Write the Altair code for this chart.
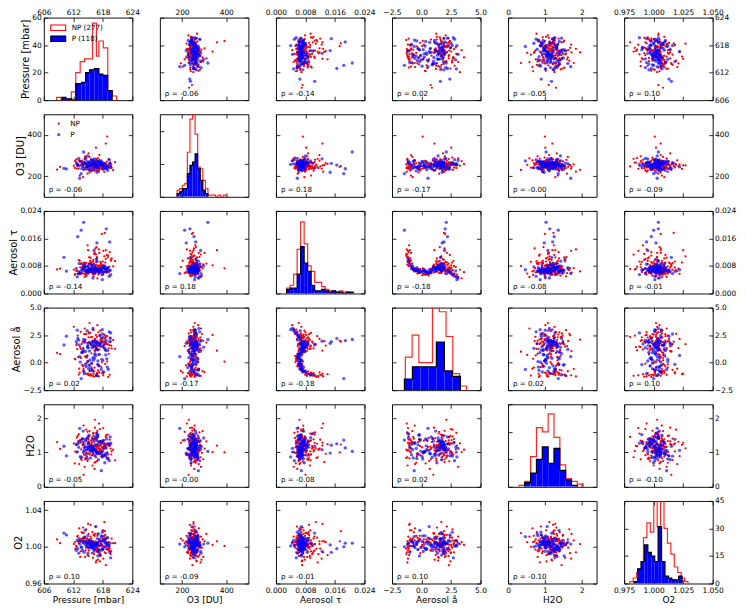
import altair as alt
import pandas as pd

FONT = "DejaVu Sans"
W, H = 89, 83

VARS = ["pressure", "o3", "tau", "ang", "h2o", "o2"]
TITLES = ["Pressure [mbar]", "O3 [DU]", "Aerosol τ", "Aerosol å", "H2O", "O2"]

X_DOMAINS = [[606, 624], [100, 500], [0.0, 0.024], [-2.5, 5.0], [0.0, 2.4], [0.975, 1.05]]
Y_DOMAINS = [[606, 624], [100, 500], [0.0, 0.024], [-2.5, 5.0], [0.0, 2.4], [0.96, 1.05]]
X_TICKS = [[606, 612, 618, 624], [200, 400], [0.0, 0.008, 0.016, 0.024],
           [-2.5, 0.0, 2.5, 5.0], [0, 1, 2], [0.975, 1.0, 1.025, 1.05]]
Y_TICKS = [[606, 612, 618, 624], [200, 400], [0.0, 0.008, 0.016, 0.024],
           [-2.5, 0.0, 2.5, 5.0], [0, 1, 2], [0.96, 1.0, 1.04]]
X_FMT = ["d", "d", ".3f", ".1f", "d", ".3f"]
Y_FMT = ["d", "d", ".3f", ".1f", "d", ".2f"]

HIST_YMAX = [60, 50, 60, 60, 60, 45]
HIST_TICKS = [[0, 20, 40, 60], [0, 20, 40], [0, 20, 40, 60], [0, 20, 40, 60],
              [0, 20, 40, 60], [0, 15, 30, 45]]

RHO = [
    ["", "-0.06", "-0.14", "0.02", "-0.05", "0.10"],
    ["-0.06", "", "0.18", "-0.17", "-0.00", "-0.09"],
    ["-0.14", "0.18", "", "-0.18", "-0.08", "-0.01"],
    ["0.02", "-0.17", "-0.18", "", "0.02", "0.10"],
    ["-0.05", "-0.00", "-0.08", "0.02", "", "-0.10"],
    ["0.10", "-0.09", "-0.01", "0.10", "-0.10", ""],
]

LEGEND_HIST = ["NP (277)", "P (118)"]
LEGEND_PTS = ["NP", "P"]

# ---------------- NP sample (red) ----------------
NP_PRESSURE = [
    616.2, 614.5, 618.1, 617.4, 612.9, 615.8, 619.2, 616.9, 613.7, 617.8,
    615.1, 618.6, 614.0, 616.5, 620.1, 613.2, 617.1, 615.6, 618.9, 616.0,
    614.8, 617.6, 612.4, 616.4, 618.3, 615.3, 619.6, 614.3, 617.0, 616.7,
    608.7, 615.9, 618.0, 613.5, 616.3, 617.9, 614.6, 619.0, 615.5, 616.8,
    613.0, 617.3, 616.1, 618.5, 614.9, 615.2, 617.5, 612.7, 616.6, 618.8,
    615.7, 614.1, 619.4, 616.9, 613.9, 617.2, 615.4, 618.2, 616.2, 614.4,
    617.7, 609.3, 615.0, 618.4, 616.0, 613.3, 617.4, 619.8, 615.8, 616.5,
    614.7, 618.0, 616.3, 612.1, 617.0, 615.6, 618.7, 614.2, 616.8, 617.6,
    613.6, 616.1, 619.1, 615.1, 617.8, 614.9, 616.4, 618.3, 615.9, 613.8,
    617.2, 616.7, 614.0, 618.6, 615.3, 616.9, 620.5, 615.7, 617.3, 614.6]
NP_O3 = [
    248, 263, 239, 271, 255, 228, 282, 246, 259, 236,
    267, 358, 244, 252, 229, 276, 241, 260, 392, 250,
    233, 257, 274, 245, 262, 218, 249, 286, 238, 265,
    232, 254, 243, 270, 226, 258, 290, 247, 235, 261,
    253, 279, 240, 256, 212, 268, 251, 237, 284, 244,
    259, 230, 247, 273, 255, 222, 264, 242, 250, 296,
    236, 245, 258, 249, 269, 203, 253, 240, 278, 257,
    246, 234, 262, 251, 288, 243, 254, 266, 227, 248,
    272, 239, 256, 310, 245, 260, 231, 252, 241, 275,
    250, 263, 195, 247, 258, 236, 268, 244, 302, 255]
NP_TAU = [
    0.0072, 0.0065, 0.0055, 0.0081, 0.0058, 0.0060, 0.0076, 0.0069, 0.0088, 0.0053,
    0.0062, 0.0126, 0.0058, 0.0074, 0.0079, 0.0064, 0.0055, 0.0070, 0.0073, 0.0093,
    0.0067, 0.0083, 0.0057, 0.0061, 0.0075, 0.0062, 0.0098, 0.0048, 0.0068, 0.0071,
    0.0070, 0.0064, 0.0075, 0.0086, 0.0078, 0.0082, 0.0052, 0.0105, 0.0090, 0.0073,
    0.0056, 0.0068, 0.0098, 0.0090, 0.0059, 0.0105, 0.0077, 0.0066, 0.0113, 0.0112,
    0.0065, 0.0080, 0.0120, 0.0044, 0.0073, 0.0128, 0.0095, 0.0063, 0.0087, 0.0085,
    0.0070, 0.0072, 0.0079, 0.0176, 0.0060, 0.0095, 0.0074, 0.0102, 0.0071, 0.0057,
    0.0052, 0.0082, 0.0066, 0.0069, 0.0078, 0.0084, 0.0066, 0.0090, 0.0102, 0.0072,
    0.0058, 0.0050, 0.0110, 0.0087, 0.0173, 0.0140, 0.0064, 0.0108, 0.0092, 0.0076,
    0.0060, 0.0135, 0.0077, 0.0071, 0.0062, 0.0061, 0.0094, 0.0079, 0.0118, 0.0068]
NP_ANG = [
    1.85, 2.10, 0.20, 1.55, 2.45, -0.10, 1.30, 1.95, 1.70, 0.05,
    2.30, 1.09, -0.35, 1.15, 2.05, -0.55, 2.75, 1.60, 0.10, 1.45,
    1.80, 2.20, 0.30, 1.05, 2.55, -0.25, 1.90, 3.10, -0.70, 1.40,
    0.88, 2.00, -0.85, 1.25, 1.75, -0.95, 2.60, 1.65, -1.05, 2.35,
    0.50, 1.20, -1.00, 2.15, 1.50, -1.15, 2.90, 1.70, -1.20, 2.40,
    0.85, 1.00, -1.10, 3.40, 1.88, -1.25, 2.70, 1.35, -0.80, 1.98,
    2.25, 0.78, -1.10, 1.90, 1.62, -0.90, 2.48, 1.30, -0.60, 2.15,
    0.60, 1.52, -0.45, 3.25, 1.12, -1.20, 1.78, 2.58, -0.95, 1.45,
    0.42, 2.95, -1.30, 1.82, 2.00, -1.05, 2.10, 1.68, -1.18, 0.95,
    0.75, 1.55, -0.75, 2.32, 3.60, -0.15, 1.25, 1.72, -0.88, 2.62]
NP_H2O = [
    1.12, 0.85, 1.34, 1.05, 1.48, 0.92, 1.21, 1.63, 0.78, 1.15,
    1.27, 1.20, 0.98, 1.41, 1.08, 0.66, 1.30, 1.17, 1.00, 1.55,
    0.88, 1.24, 1.02, 1.72, 1.36, 0.95, 1.11, 0.58, 1.45, 1.19,
    1.30, 1.07, 1.26, 0.82, 1.39, 1.14, 0.99, 1.52, 1.22, 0.74,
    1.33, 1.04, 1.18, 0.90, 1.60, 1.28, 1.09, 1.43, 0.86, 1.25,
    1.13, 0.35, 1.37, 1.01, 1.21, 1.84, 0.94, 1.16, 1.31, 0.80,
    1.06, 1.10, 1.47, 1.23, 0.97, 1.35, 1.68, 1.03, 1.29, 0.89,
    1.42, 1.14, 0.70, 1.26, 1.18, 1.05, 1.50, 0.93, 1.38, 1.20,
    1.09, 1.57, 0.84, 1.32, 1.00, 1.24, 1.95, 1.12, 0.62, 1.40,
    1.17, 0.96, 1.28, 1.45, 1.08, 1.33, 0.77, 1.22, 1.11, 1.66]
NP_O2 = [
    1.003, 0.996, 1.008, 1.001, 1.012, 0.993, 1.005, 0.999, 1.016, 1.002,
    0.990, 1.006, 1.010, 0.997, 1.004, 1.020, 0.994, 1.007, 1.001, 0.988,
    1.009, 1.003, 0.998, 1.014, 1.000, 1.006, 0.992, 1.011, 1.004, 0.985,
    1.008, 1.002, 1.018, 0.995, 1.005, 1.009, 0.999, 1.003, 1.024, 0.997,
    1.006, 0.991, 1.001, 1.013, 1.004, 0.996, 1.007, 1.000, 0.983, 1.010,
    1.002, 1.015, 0.998, 1.005, 1.008, 0.994, 1.003, 1.011, 1.001, 0.989,
    1.006, 1.004, 0.999, 1.017, 1.002, 1.007, 0.993, 1.009, 1.000, 1.022,
    1.005, 0.997, 1.012, 1.003, 0.986, 1.006, 1.001, 1.010, 0.995, 1.004,
    1.008, 1.002, 0.998, 1.014, 1.006, 0.991, 1.003, 1.027, 1.000, 1.007,
    0.996, 1.005, 1.009, 0.980, 1.002, 1.012, 1.004, 0.999, 1.006, 1.019]

NP_PRESSURE_B = [
    615.4, 617.9, 613.8, 616.6, 618.4, 614.6, 616.1, 619.3, 615.0, 617.5,
    612.8, 616.8, 618.9, 614.9, 617.2, 615.9, 619.7, 613.5, 616.3, 618.1,
    614.3, 617.7, 615.6, 616.9, 612.3, 618.6, 615.2, 617.0, 614.0, 616.4,
    619.2, 615.7, 613.1, 617.4, 616.0, 618.3, 614.7, 616.7, 615.3, 617.8,
    613.9, 616.2, 618.8, 615.8, 614.4, 617.3, 616.5, 612.6, 618.0, 615.1,
    616.9, 614.1, 617.6, 619.5, 615.5, 616.3, 613.4, 618.5, 616.6, 615.0]
NP_O3_B = [
    254, 241, 266, 249, 258, 233, 272, 245, 261, 238,
    250, 279, 243, 256, 227, 264, 247, 253, 269, 236,
    258, 244, 283, 251, 240, 262, 230, 255, 248, 275,
    242, 259, 237, 266, 252, 221, 261, 246, 293, 250,
    257, 239, 270, 248, 263, 235, 254, 281, 243, 260,
    231, 257, 249, 267, 240, 255, 273, 246, 338, 252]
NP_TAU_B = [
    0.0068, 0.0074, 0.0059, 0.0083, 0.0063, 0.0089, 0.0070, 0.0078, 0.0057, 0.0092,
    0.0066, 0.0106, 0.0073, 0.0061, 0.0081, 0.0069, 0.0095, 0.0058, 0.0076, 0.0124,
    0.0071, 0.0064, 0.0087, 0.0075, 0.0054, 0.0100, 0.0067, 0.0080, 0.0072, 0.0118,
    0.0062, 0.0085, 0.0097, 0.0070, 0.0055, 0.0079, 0.0065, 0.0091, 0.0073, 0.0068,
    0.0084, 0.0115, 0.0060, 0.0077, 0.0056, 0.0072, 0.0131, 0.0066, 0.0093, 0.0080,
    0.0063, 0.0074, 0.0088, 0.0069, 0.0104, 0.0058, 0.0076, 0.0071, 0.0082, 0.0126]
NP_ANG_B = [
    1.75, 2.20, -0.20, 1.40, 2.50, -1.02, 1.95, 1.60, 0.15, 2.05,
    1.22, -1.22, 2.40, 0.65, 1.85, -0.65, 1.55, 2.80, 1.10, -1.15,
    2.00, -0.40, 2.30, 1.48, 0.35, 1.80, 2.65, -0.90, 1.32, 2.15,
    0.80, 1.65, -1.08, 2.45, 3.00, 1.92, -0.05, 1.28, -0.78, 2.12,
    1.05, -1.28, 1.70, 2.35, 0.55, -0.30, 1.95, 1.58, -0.98, 2.75,
    1.18, -0.58, 1.90, 2.28, -1.12, 0.70, 1.42, -0.12, 2.52, -1.00]
NP_H2O_B = [
    1.15, 0.91, 1.38, 1.07, 1.26, 0.83, 1.49, 1.19, 0.97, 1.33,
    1.02, 1.58, 1.22, 0.75, 1.11, 1.40, 0.94, 1.29, 1.06, 1.71,
    1.17, 0.88, 1.35, 1.24, 0.68, 1.13, 1.46, 1.00, 1.31, 1.09,
    0.80, 1.27, 1.53, 1.04, 1.20, 0.92, 1.36, 1.14, 1.62, 0.99,
    1.23, 1.08, 0.86, 1.44, 1.16, 1.30, 0.72, 1.21, 1.03, 1.39,
    1.12, 1.78, 0.95, 1.25, 1.07, 0.52, 1.34, 1.18, 1.01, 1.28]
NP_O2_B = [
    1.004, 0.998, 1.009, 1.002, 0.994, 1.007, 1.013, 1.000, 1.005, 0.990,
    1.011, 1.003, 0.997, 1.008, 1.001, 1.016, 0.995, 1.006, 1.004, 0.987,
    1.010, 1.002, 0.999, 1.014, 1.005, 0.993, 1.007, 1.001, 1.021, 1.003,
    0.996, 1.009, 1.004, 0.984, 1.006, 1.012, 1.000, 0.998, 1.008, 1.003,
    1.015, 0.992, 1.005, 1.002, 1.010, 0.997, 1.006, 1.001, 1.018, 1.004,
    0.999, 1.007, 1.003, 0.995, 1.011, 1.005, 0.989, 1.008, 1.002, 1.025]

# ---------------- P sample (blue) ----------------
P_PRESSURE = [
    615.8, 617.2, 613.4, 616.5, 618.6, 614.2, 616.9, 619.3, 615.1, 617.8,
    610.1, 616.2, 613.9, 618.1, 615.5, 617.5, 614.7, 616.7, 619.0, 612.9,
    616.0, 618.4, 614.4, 617.0, 615.3, 610.6, 616.4, 613.1, 618.9, 617.3,
    615.7, 614.0, 616.8, 619.6, 615.0, 617.7, 613.6, 616.3, 618.2, 614.9,
    616.6, 612.6, 617.9, 615.2, 618.7, 616.1, 614.5, 617.1, 619.4, 615.9,
    613.3, 616.9, 618.0, 614.8, 614.1]
P_O3 = [
    262, 248, 271, 255, 239, 266, 252, 280, 244, 259,
    238, 268, 250, 234, 273, 257, 246, 263, 228, 254,
    276, 241, 260, 249, 265, 235, 256, 286, 243, 270,
    251, 261, 219, 258, 247, 274, 212, 267, 253, 298,
    245, 264, 257, 232, 236, 250, 282, 240, 262, 255,
    190, 272, 248, 259, 317]
P_TAU = [
    0.0071, 0.0066, 0.0063, 0.0074, 0.0064, 0.0085, 0.0068, 0.0050, 0.0068, 0.0066,
    0.0105, 0.0083, 0.0067, 0.0062, 0.0071, 0.0070, 0.0060, 0.0100, 0.0072, 0.0165,
    0.0045, 0.0077, 0.0064, 0.0068, 0.0086, 0.0065, 0.0060, 0.0058, 0.0075, 0.0072,
    0.0065, 0.0075, 0.0147, 0.0055, 0.0069, 0.0069, 0.0184, 0.0061, 0.0072, 0.0080,
    0.0069, 0.0073, 0.0040, 0.0062, 0.0188, 0.0070, 0.0078, 0.0065, 0.0150, 0.0080,
    0.0058, 0.0066, 0.0076, 0.0066, 0.0207]
P_ANG = [
    1.35, -0.30, 0.05, 1.60, 0.70, -1.00, 1.80, 2.80, -0.55, 0.30,
    1.60, 1.45, 0.95, 2.30, -0.70, 1.70, 0.50, -1.15, 1.10, 2.20,
    3.10, 1.30, -0.15, 0.15, 1.85, 2.40, 0.82, 2.05, -0.40, 1.55,
    -0.05, 1.20, 1.75, 2.70, 1.62, -0.62, -1.45, 0.40, -0.85, 1.40,
    0.65, 1.90, 3.00, -0.22, 2.00, 0.22, 1.02, 1.72, 1.90, -0.75,
    0.55, 1.18, 1.88, 2.90, 2.10]
P_H2O = [
    1.05, 1.22, 0.88, 1.35, 0.97, 1.14, 1.48, 0.76, 1.28, 1.02,
    1.18, 0.92, 1.40, 1.10, 0.84, 1.30, 1.07, 1.55, 0.95, 1.25,
    1.12, 0.70, 1.38, 1.00, 1.20, 0.90, 1.45, 1.15, 0.82, 1.32,
    1.04, 1.62, 0.98, 1.27, 1.09, 0.47, 1.36, 1.19, 0.93, 1.42,
    1.06, 1.24, 0.87, 1.50, 1.13, 1.01, 1.33, 0.79, 1.21, 1.08,
    1.70, 0.96, 1.29, 1.16, 1.03]
P_O2 = [
    1.002, 0.997, 1.006, 1.000, 1.009, 0.994, 1.004, 1.001, 0.999, 1.012,
    1.015, 1.003, 0.996, 1.007, 1.001, 0.991, 1.005, 1.002, 1.010, 0.998,
    1.004, 1.000, 1.018, 0.995, 1.006, 1.013, 1.001, 0.993, 1.003, 1.008,
    0.999, 1.005, 1.002, 0.988, 1.004, 1.011, 1.000, 0.997, 1.006, 1.003,
    1.022, 0.996, 1.001, 1.007, 1.004, 0.999, 1.002, 1.014, 0.994, 1.005,
    1.003, 1.009, 0.998, 1.001, 1.004]

P_PRESSURE_B = [
    616.3, 614.6, 617.6, 615.4, 618.3, 613.7, 616.8, 615.0, 617.4, 619.1,
    614.3, 616.0, 618.5, 615.7, 617.0, 612.8, 616.5, 614.9, 618.0, 615.6,
    617.3, 613.2, 616.2, 619.5, 615.3, 617.9, 614.2, 616.7, 618.8, 615.9]
P_O3_B = [
    256, 243, 268, 251, 262, 237, 274, 249, 259, 245,
    265, 231, 253, 278, 247, 260, 240, 270, 255, 226,
    263, 250, 284, 242, 258, 266, 236, 252, 244, 261]
P_TAU_B = [
    0.0070, 0.0067, 0.0073, 0.0064, 0.0081, 0.0069, 0.0094, 0.0072, 0.0060, 0.0066,
    0.0076, 0.0063, 0.0071, 0.0084, 0.0068, 0.0048, 0.0075, 0.0065, 0.0079, 0.0070,
    0.0062, 0.0087, 0.0125, 0.0067, 0.0074, 0.0058, 0.0078, 0.0069, 0.0064, 0.0072]
P_ANG_B = [
    1.50, -0.35, 1.78, 0.25, 1.62, 0.90, -1.10, 1.35, 2.45, -0.60,
    1.85, 0.45, 1.15, 1.70, -0.18, 2.95, 1.92, 0.10, 1.45, -0.45,
    0.75, 1.60, 1.95, 2.20, 1.05, 2.60, -0.82, 1.28, 0.35, 1.88]
P_H2O_B = [
    1.10, 0.94, 1.31, 1.03, 1.21, 0.86, 1.43, 1.15, 0.99, 1.26,
    1.07, 1.37, 0.90, 1.18, 1.52, 1.01, 1.23, 0.81, 1.34, 1.12,
    0.96, 1.29, 1.08, 1.45, 1.16, 0.89, 1.24, 1.05, 1.39, 1.13]
P_O2_B = [
    1.001, 1.005, 0.996, 1.003, 1.008, 0.999, 1.004, 0.993, 1.006, 1.002,
    1.010, 0.998, 1.004, 1.001, 0.990, 1.007, 1.003, 1.012, 0.997, 1.005,
    1.002, 1.009, 0.995, 1.004, 1.000, 1.016, 1.006, 1.003, 0.998, 1.005]

# ---------------- histogram bins read from the diagonal ----------------
NP_HIST_EDGES = [
    [608.6, 609.5, 611.6, 612.5, 613.4, 614.3, 615.2, 615.9, 616.7, 617.2, 618.1, 619.0, 619.9, 620.8],
    [178.0, 189.6, 201.2, 212.8, 224.4, 236.0, 247.6, 259.2, 270.8, 282.4, 294.0, 305.6, 317.2,
     328.8, 340.4, 352.0, 363.6, 375.2, 386.8, 398.4],
    [0.0029, 0.00385, 0.0048, 0.00575, 0.0067, 0.00765, 0.0086, 0.00955, 0.0105, 0.01145, 0.0124,
     0.01335, 0.0143, 0.01525, 0.0162, 0.01715, 0.0181, 0.01905, 0.0200, 0.02095],
    [-1.37, -0.795, -0.22, 0.355, 0.93, 1.505, 2.08, 2.655, 3.23, 3.805],
    [0.294, 0.453, 0.611, 0.770, 0.928, 1.087, 1.245, 1.404, 1.562, 1.720, 1.879, 2.037],
    [0.9798, 0.9827, 0.9856, 0.9885, 0.9914, 0.9943, 0.9972, 1.0001, 1.0030, 1.0059, 1.0088,
     1.0117, 1.0146, 1.0175, 1.0204, 1.0233, 1.0262, 1.0291],
]
NP_HIST_COUNTS = [
    [2, 0, 6, 20, 28, 30, 30, 56, 32, 43, 38, 7, 3],
    [4, 5, 7, 8, 27, 47, 62, 38, 18, 17, 10, 5, 1, 1, 1, 0, 1, 0, 1],
    [4, 6, 14, 32, 52, 36, 20, 16, 8, 8, 5, 3, 2, 1, 1, 2, 1, 1, 0],
    [24, 40, 20, 20, 65, 57, 39, 12, 3],
    [1, 4, 22, 43, 40, 53, 36, 16, 6, 4, 2],
    [1, 3, 6, 8, 25, 33, 28, 50, 31, 50, 30, 22, 16, 9, 6, 3, 1],
]
P_HIST_EDGES = [
    [609.7, 610.5, 611.7, 612.5, 613.7, 614.5, 615.3, 616.3, 617.2, 618.0, 619.0, 619.9],
    [178.0, 189.6, 201.2, 212.8, 224.4, 236.0, 247.6, 259.2, 270.8, 282.4, 294.0, 305.6, 317.2],
    [0.0029, 0.00385, 0.0048, 0.00575, 0.0067, 0.00765, 0.0086, 0.00955, 0.0105, 0.01145, 0.0124,
     0.01335, 0.0143, 0.01525, 0.0162, 0.01715, 0.0181, 0.01905, 0.0200, 0.02095],
    [-1.45, -0.77, -0.09, 0.58, 1.26, 1.94, 2.62, 3.30],
    [0.453, 0.611, 0.770, 0.928, 1.087, 1.245, 1.404, 1.562, 1.720, 1.879],
    [0.9835, 0.9864, 0.9893, 0.9922, 0.9951, 0.9980, 1.0009, 1.0038, 1.0067, 1.0096, 1.0125,
     1.0154, 1.0183, 1.0212, 1.0241],
]
P_HIST_COUNTS = [
    [2, 1, 0, 12, 13, 20, 22, 23, 19, 18, 7],
    [2, 3, 5, 5, 14, 19, 21, 26, 17, 10, 4, 2],
    [3, 4, 4, 14, 34, 22, 16, 6, 2, 2, 3, 2, 1, 2, 1, 1, 0, 1, 1],
    [8, 17, 17, 17, 35, 14, 10],
    [3, 10, 20, 29, 17, 28, 12, 5, 1],
    [1, 8, 12, 21, 17, 15, 12, 31, 12, 4, 3, 2, 2, 4],
]

np_df = pd.DataFrame({"pressure": NP_PRESSURE + NP_PRESSURE_B, "o3": NP_O3 + NP_O3_B,
                      "tau": NP_TAU + NP_TAU_B, "ang": NP_ANG + NP_ANG_B,
                      "h2o": NP_H2O + NP_H2O_B, "o2": NP_O2 + NP_O2_B})
p_df = pd.DataFrame({"pressure": P_PRESSURE + P_PRESSURE_B, "o3": P_O3 + P_O3_B,
                     "tau": P_TAU + P_TAU_B, "ang": P_ANG + P_ANG_B,
                     "h2o": P_H2O + P_H2O_B, "o2": P_O2 + P_O2_B})

TICK_FS = 7.5
XTITLE_FS = 9
YTITLE_FS = 10
TEXT_FS = 7.2


def step_df(edges, counts):
    xs = [edges[0]] + list(edges[:-1]) + [edges[-1]]
    ys = [0] + list(counts) + [0]
    return pd.DataFrame({"x": xs, "y": ys, "i": list(range(len(xs)))})


def bar_df(edges, counts):
    return pd.DataFrame({"x": list(edges[:-1]), "x2": list(edges[1:]),
                         "y": list(counts), "y0": [0] * len(counts)})


def make_axis(orient, values, fmt, show_labels, title, label_pad, title_pad=2, title_fs=9):
    kw = dict(orient=orient, values=values, format=fmt, labels=show_labels,
              offset=-4, labelPadding=label_pad)
    if title is not None:
        kw["title"] = title
        kw["titlePadding"] = title_pad
        kw["titleFontSize"] = title_fs
    else:
        kw["title"] = None
    return alt.Axis(**kw)


def axes_for(r, c, diag):
    yt = HIST_TICKS[r] if diag else Y_TICKS[r]
    yf = "d" if diag else Y_FMT[r]
    bottom = make_axis("bottom", X_TICKS[c], X_FMT[c], r == 5,
                       TITLES[c] if r == 5 else None, 3, 2, XTITLE_FS)
    top = make_axis("top", X_TICKS[c], X_FMT[c], r == 0, None, 1.5)
    left = make_axis("left", yt, yf, c == 0, TITLES[r] if c == 0 else None, 2.5, 1.5, YTITLE_FS)
    right = make_axis("right", yt, yf, c == 5, None, 1.8)
    return bottom, top, left, right


def text_layer(label, x, y, baseline="middle"):
    return alt.Chart(pd.DataFrame({"t": [label]})).mark_text(
        align="left", baseline=baseline, fontSize=TEXT_FS, font=FONT, color="black").encode(
        x=alt.value(x), y=alt.value(y), text="t:N")


def scatter_panel(r, c):
    xv, yv = VARS[c], VARS[r]
    xs = alt.Scale(domain=X_DOMAINS[c], nice=False, zero=False)
    ys = alt.Scale(domain=Y_DOMAINS[r], nice=False, zero=False)
    bottom, top, left, right = axes_for(r, c, False)
    red = alt.Chart(np_df).mark_circle(size=5, color="#ff0000", opacity=1, clip=True).encode(
        x=alt.X(f"{xv}:Q", scale=xs, axis=bottom),
        y=alt.Y(f"{yv}:Q", scale=ys, axis=left))
    blue = alt.Chart(p_df).mark_circle(size=11, color="#0000ff", opacity=0.65, clip=True).encode(
        x=alt.X(f"{xv}:Q", scale=xs, axis=None),
        y=alt.Y(f"{yv}:Q", scale=ys, axis=None))
    ticks = alt.Chart(np_df).mark_point(opacity=0).encode(
        x=alt.X(f"{xv}:Q", scale=xs, axis=top),
        y=alt.Y(f"{yv}:Q", scale=ys, axis=right))
    rho = text_layer("ρ = " + RHO[r][c], 5, H - 4.5, "alphabetic")
    layers = [red, blue, rho, ticks]
    if r == 1 and c == 0:
        layers += [
            alt.Chart(pd.DataFrame({"t": [LEGEND_PTS[0]]})).mark_circle(
                size=5, color="#ff0000", opacity=1).encode(x=alt.value(15), y=alt.value(9.5)),
            alt.Chart(pd.DataFrame({"t": [LEGEND_PTS[1]]})).mark_circle(
                size=11, color="#0000ff", opacity=0.65).encode(x=alt.value(15), y=alt.value(20.5)),
            text_layer(LEGEND_PTS[0], 26.5, 9.5),
            text_layer(LEGEND_PTS[1], 26.5, 20.5),
        ]
    return alt.layer(*layers).resolve_axis(x="independent", y="independent").properties(width=W, height=H)


def hist_panel(k):
    xs = alt.Scale(domain=X_DOMAINS[k], nice=False, zero=False)
    ys = alt.Scale(domain=[0, HIST_YMAX[k]], nice=False, zero=True)
    bottom, top, left, right = axes_for(k, k, True)
    np_step = step_df(NP_HIST_EDGES[k], NP_HIST_COUNTS[k])
    p_step = step_df(P_HIST_EDGES[k], P_HIST_COUNTS[k])
    p_bars = bar_df(P_HIST_EDGES[k], P_HIST_COUNTS[k])
    red = alt.Chart(np_step).mark_line(color="#ff0000", strokeWidth=1.2, opacity=0.85,
                                       interpolate="step-after", clip=True).encode(
        x=alt.X("x:Q", scale=xs, axis=bottom),
        y=alt.Y("y:Q", scale=ys, axis=left),
        order=alt.Order("i:Q"))
    bars = alt.Chart(p_bars).mark_rect(color="#0000ff", strokeWidth=0, clip=True).encode(
        x=alt.X("x:Q", scale=xs, axis=None), x2="x2:Q",
        y=alt.Y("y:Q", scale=ys, axis=None), y2="y0:Q")
    black = alt.Chart(p_step).mark_line(color="black", strokeWidth=1.2,
                                        interpolate="step-after", clip=True).encode(
        x=alt.X("x:Q", scale=xs, axis=None),
        y=alt.Y("y:Q", scale=ys, axis=None),
        order=alt.Order("i:Q"))
    ticks = alt.Chart(np_step).mark_point(opacity=0).encode(
        x=alt.X("x:Q", scale=xs, axis=top),
        y=alt.Y("y:Q", scale=ys, axis=right))
    layers = [red, bars, black, ticks]
    if k == 0:
        layers += [
            alt.Chart(pd.DataFrame({"t": [LEGEND_HIST[0]]})).mark_rect(
                fill="white", stroke="#ff0000", strokeWidth=1.1).encode(
                x=alt.value(7), x2=alt.value(22), y=alt.value(7.5), y2=alt.value(13)),
            alt.Chart(pd.DataFrame({"t": [LEGEND_HIST[1]]})).mark_rect(
                fill="#0000ff", stroke="black", strokeWidth=1.1).encode(
                x=alt.value(7), x2=alt.value(22), y=alt.value(18.5), y2=alt.value(24)),
            text_layer(LEGEND_HIST[0], 28, 10.3),
            text_layer(LEGEND_HIST[1], 28, 21.3),
        ]
    return alt.layer(*layers).resolve_axis(x="independent", y="independent").properties(width=W, height=H)


panels = []
for r in range(6):
    for c in range(6):
        panels.append(hist_panel(r) if r == c else scatter_panel(r, c))

chart = alt.concat(*panels, columns=6, spacing={"row": 14.2, "column": 27.7}, bounds="flush").resolve_scale(
    x="independent", y="independent"
).configure(
    padding={"left": 0, "top": -2, "right": 2, "bottom": 0}, background="white", font=FONT
).configure_view(
    stroke="#111111", strokeWidth=1
).configure_axis(
    domain=False, grid=False, tickSize=4, tickWidth=0.8, tickColor="black",
    labelFont=FONT, labelFontSize=TICK_FS, labelColor="black",
    titleFont=FONT, titleFontSize=XTITLE_FS, titleFontWeight="normal", titleColor="black",
    labelFlush=False, labelOverlap=False
)

chart.save("out.html", embed_options={"renderer": "svg", "actions": False})
